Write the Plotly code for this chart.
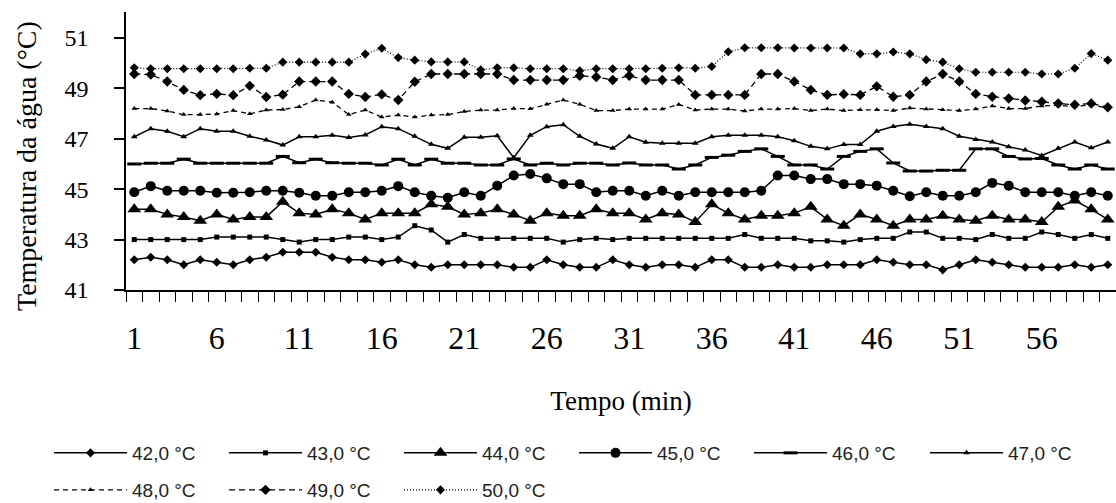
import plotly.graph_objects as go

minutes = list(range(1, 61))
tick_minutes = [1, 6, 11, 16, 21, 26, 31, 36, 41, 46, 51, 56]
temp_ticks = [41, 43, 45, 47, 49, 51]
names = ["42,0 °C", "43,0 °C", "44,0 °C", "45,0 °C", "46,0 °C", "47,0 °C",
         "48,0 °C", "49,0 °C", "50,0 °C"]

t42 = [42.2, 42.3, 42.2, 42.0, 42.2, 42.1, 42.0, 42.2, 42.3, 42.5,
       42.5, 42.5, 42.3, 42.2, 42.2, 42.1, 42.2, 42.0, 41.9, 42.0,
       42.0, 42.0, 42.0, 41.9, 41.9, 42.2, 42.0, 41.9, 41.9, 42.2,
       42.0, 41.9, 42.0, 42.0, 41.9, 42.2, 42.2, 41.9, 41.9, 42.0,
       41.9, 41.9, 42.0, 42.0, 42.0, 42.2, 42.1, 42.0, 42.0, 41.8,
       42.0, 42.2, 42.1, 42.0, 41.9, 41.9, 41.9, 42.0, 41.9, 42.0]
t43 = [43.0, 43.0, 43.0, 43.0, 43.0, 43.1, 43.1, 43.1, 43.1, 43.0,
       42.9, 43.0, 43.0, 43.1, 43.1, 43.0, 43.1, 43.55, 43.38, 42.9,
       43.2, 43.05, 43.05, 43.05, 43.05, 43.05, 42.9, 43.0, 43.05, 43.0,
       43.05, 43.05, 43.05, 43.05, 43.05, 43.05, 43.05, 43.2, 43.05, 43.05,
       43.05, 42.95, 42.95, 42.9, 43.0, 43.05, 43.05, 43.3, 43.3, 43.05,
       43.05, 43.0, 43.2, 43.05, 43.05, 43.3, 43.2, 43.05, 43.2, 43.05]
t44 = [44.2, 44.2, 44.0, 43.9, 43.75, 44.0, 43.8, 43.9, 43.9, 44.5,
       44.05, 44.0, 44.2, 44.05, 43.8, 44.05, 44.05, 44.05, 44.4, 44.3,
       44.0, 44.05, 44.2, 44.0, 43.75, 44.05, 43.95, 43.95, 44.2, 44.05,
       44.05, 43.8, 44.05, 44.0, 43.7, 44.4, 44.05, 43.8, 43.95, 43.95,
       44.05, 44.3, 43.8, 43.55, 44.0, 43.8, 43.55, 43.8, 43.8, 43.95,
       43.8, 43.75, 43.95, 43.8, 43.8, 43.7, 44.3, 44.55, 44.2, 43.8]
t45 = [44.88, 45.12, 44.94, 44.94, 44.94, 44.86, 44.86, 44.88, 44.94, 44.94,
       44.86, 44.74, 44.74, 44.88, 44.88, 44.94, 45.12, 44.88, 44.74, 44.66,
       44.88, 44.74, 45.14, 45.54, 45.6, 45.43, 45.2, 45.2, 44.88, 44.94,
       44.94, 44.74, 44.94, 44.74, 44.88, 44.88, 44.88, 44.88, 44.94, 45.54,
       45.54, 45.4, 45.4, 45.2, 45.2, 45.14, 44.94, 44.72, 44.88, 44.74,
       44.74, 44.88, 45.25, 45.14, 44.88, 44.88, 44.88, 44.74, 44.88, 44.74]
t46 = [46.0, 46.03, 46.03, 46.19, 46.03, 46.03, 46.03, 46.03, 46.03, 46.3,
       46.05, 46.19, 46.05, 46.03, 46.03, 45.96, 46.19, 45.96, 46.19, 46.03,
       46.03, 45.96, 45.96, 46.2, 45.96, 46.03, 45.96, 46.03, 46.03, 45.96,
       46.04, 45.96, 45.96, 45.8, 45.96, 46.26, 46.35, 46.5, 46.6, 46.3,
       45.96, 45.96, 45.8, 46.3, 46.5, 46.6, 46.04, 45.72, 45.72, 45.75,
       45.75, 46.6, 46.6, 46.3, 46.2, 46.22, 45.96, 45.8, 45.96, 45.8]
t47 = [47.08, 47.4, 47.3, 47.08, 47.4, 47.3, 47.3, 47.1, 46.95, 46.75,
       47.08, 47.08, 47.14, 47.05, 47.15, 47.48, 47.4, 47.1, 46.78, 46.62,
       47.06, 47.06, 47.12, 46.25, 47.14, 47.48, 47.56, 47.1, 46.79, 46.62,
       47.08, 46.86, 46.82, 46.82, 46.82, 47.08, 47.14, 47.14, 47.14, 47.08,
       46.92, 46.7, 46.6, 46.77, 46.77, 47.3, 47.49, 47.58, 47.49, 47.4,
       47.1, 46.97, 46.87, 46.68, 46.55, 46.34, 46.62, 46.87, 46.64, 46.87]
t48 = [48.2, 48.2, 48.1, 47.96, 47.96, 47.98, 48.12, 47.99, 48.14, 48.16,
       48.27, 48.54, 48.45, 47.96, 48.14, 47.86, 47.94, 47.86, 47.94, 47.96,
       48.08, 48.14, 48.14, 48.2, 48.19, 48.37, 48.54, 48.37, 48.12, 48.12,
       48.18, 48.18, 48.18, 48.36, 48.14, 48.18, 48.18, 48.1, 48.18, 48.18,
       48.2, 48.12, 48.18, 48.12, 48.15, 48.15, 48.12, 48.22, 48.18, 48.15,
       48.12, 48.18, 48.3, 48.2, 48.2, 48.3, 48.33, 48.27, 48.36, 48.2]
t49 = [49.57, 49.55, 49.27, 48.94, 48.73, 48.78, 48.73, 49.1, 48.66, 48.75,
       49.27, 49.27, 49.27, 48.78, 48.66, 48.76, 48.54, 49.26, 49.57, 49.57,
       49.57, 49.57, 49.57, 49.33, 49.33, 49.33, 49.33, 49.5, 49.45, 49.33,
       49.5, 49.33, 49.33, 49.33, 48.74, 48.74, 48.74, 48.74, 49.57, 49.57,
       49.27, 48.94, 48.74, 48.77, 48.74, 49.08, 48.67, 48.74, 49.27, 49.57,
       49.27, 48.78, 48.67, 48.6, 48.52, 48.47, 48.4, 48.35, 48.4, 48.25]
t50 = [49.82, 49.78, 49.78, 49.78, 49.78, 49.78, 49.78, 49.8, 49.8, 50.04,
       50.04, 50.04, 50.04, 50.04, 50.36, 50.59, 50.22, 50.12, 50.05, 50.05,
       50.05, 49.74, 49.82, 49.82, 49.78, 49.78, 49.78, 49.7, 49.78, 49.78,
       49.78, 49.78, 49.8, 49.82, 49.8, 49.87, 50.45, 50.61, 50.61, 50.61,
       50.6, 50.6, 50.6, 50.6, 50.37, 50.37, 50.44, 50.37, 50.14, 50.04,
       49.78, 49.64, 49.64, 49.64, 49.64, 49.57, 49.57, 49.8, 50.38, 50.12]

series = [t42, t43, t44, t45, t46, t47, t48, t49, t50]
dashes = ["solid"] * 6 + ["5px,4px", "6px,4px", "1px,2px"]
widths = [1.5] * 6 + [1.3, 1.3, 1.2]
symbols = ["diamond", "square", "triangle-up", "circle", "line-ew", "triangle-up",
           "triangle-up", "diamond", "diamond"]
sizes = [7, 5, 12, 10, 10, 6, 5, 8, 7]
legends = ["legend"] * 5 + ["legend3"] + ["legend2"] * 3

fig = go.Figure()
for name, ys, dash, w, sym, sz, lg in zip(names, series, dashes, widths, symbols, sizes, legends):
    marker = dict(symbol=sym, size=sz, color="black")
    if sym == "line-ew":
        marker["line"] = dict(width=3, color="black")
    fig.add_trace(go.Scatter(
        x=minutes, y=ys, name=name, mode="lines+markers",
        line=dict(color="black", width=w, dash=dash),
        marker=marker, legend=lg,
    ))

serif = "Liberation Serif, Times New Roman, serif"
legend_font = dict(family="Liberation Sans, Arial, sans-serif", size=19, color="#222")


def legend_box(x_px, y_center_px):
    return dict(orientation="h", xref="container", yref="container",
                x=x_px / 1116, y=(503 - y_center_px) / 503,
                xanchor="left", yanchor="middle",
                itemwidth=73, entrywidth=87, entrywidthmode="pixels",
                font=legend_font, bgcolor="rgba(0,0,0,0)", traceorder="normal")


fig.update_layout(
    width=1116, height=503, autosize=False,
    margin=dict(l=126, r=0, t=12, b=213),
    paper_bgcolor="white", plot_bgcolor="white",
    font=dict(family=serif, color="black"),
    xaxis=dict(
        range=[0.5, 60.5], tickmode="array", tickvals=tick_minutes,
        ticktext=[str(v) for v in tick_minutes], ticks="",
        tickfont=dict(family=serif, size=32, color="black"),
        ticklabelstandoff=19,
        showline=True, linecolor="black", linewidth=1.5,
        showgrid=False, zeroline=False, automargin=False,
        minor=dict(tickmode="array", tickvals=[i + 0.5 for i in range(0, 61)],
                   ticks="outside", ticklen=10, tickwidth=1, tickcolor="black",
                   showgrid=False),
        title=dict(text="Tempo (min)", font=dict(family=serif, size=27, color="black"),
                   standoff=36),
    ),
    yaxis=dict(
        range=[41, 52.03], tickmode="array", tickvals=temp_ticks,
        ticks="outside", ticklen=10, tickwidth=1.5, tickcolor="black",
        tickfont=dict(family=serif, size=24, color="black"),
        ticklabelstandoff=21,
        showline=True, linecolor="black", linewidth=1.5,
        showgrid=False, zeroline=False, automargin=False,
    ),
    legend=legend_box(49, 453),
    legend3=legend_box(925, 453),
    legend2=legend_box(49, 490),
    showlegend=True,
    annotations=[dict(
        text="Temperatura da água (°C)", textangle=-90,
        xref="paper", yref="paper", x=(26 - 126) / 990, y=(290 - 166) / 278,
        xanchor="center", yanchor="middle", showarrow=False,
        font=dict(family=serif, size=28, color="black"),
    )],
)

fig.write_html("out.html")
